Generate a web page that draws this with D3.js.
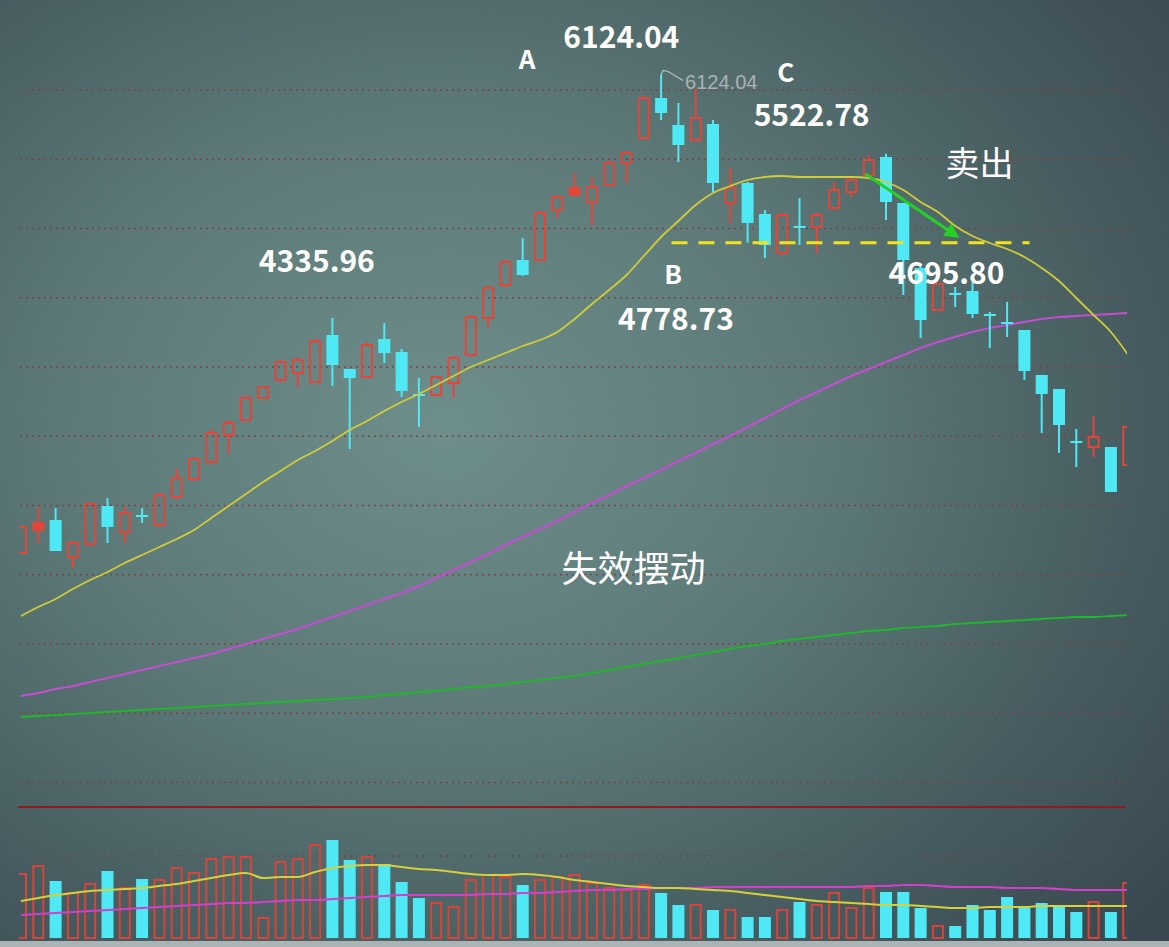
<!DOCTYPE html>
<html><head><meta charset="utf-8">
<script src="https://cdn.jsdelivr.net/npm/d3@7"></script>
<style>html,body{margin:0;padding:0;background:#4a6464;overflow:hidden}</style>
</head><body><svg id="c" width="1169" height="947"></svg>
<script>
// ---- data (index points) ----
const opens=[2296,2480,2560,2264,2368,2672,2464,2600,2520,2744,
2888,3024,3240,3360,3536,3680,3736,3664,4040,3768,
3704,4008,3904,3568,3560,3656,3880,4176,4440,4640,
4640,5040,5160,5104,5240,5416,5616,5936,5720,5600,
5728,5096,5256,5008,4696,4912,4904,5056,5184,5320,
5464,5096,4576,4240,4376,4392,4208,4144,4080,3720,
3608,3192,3144,3144,3000];
const highs=[2504,2664,2656,2392,2704,2736,2664,2656,2776,2968,
3064,3288,3360,3560,3632,3840,3864,4008,4176,3768,
3984,4136,3928,3696,3712,3872,4200,4432,4640,4816,
5032,5160,5336,5304,5432,5512,5952,6124.04,5896,6008,
5760,5384,5264,5040,5016,5136,5016,5264,5296,5480,
5490,5096,4600,4456,4424,4464,4224,4304,4080,3720,
3608,3288,3392,3144,3304];
const lows=[2296,2376,2312,2176,2352,2376,2376,2536,2504,2728,
2872,3008,3088,3352,3528,3664,3624,3656,3632,3128,
3696,3816,3544,3304,3552,3536,3872,4104,4424,4512,
4632,4976,5152,4920,5232,5256,5600,5760,5424,5584,
5184,4936,4778.73,4656,4680,4760,4696,5040,5144,5296,
4960,4360,4016,4232,4264,4176,3936,4024,3680,3256,
3096,2984,3064,2784,3000];
const closes=[2504,2536,2312,2376,2688,2504,2616,2592,2760,2896,
3048,3256,3336,3536,3624,3824,3840,3992,3800,3696,
3960,3896,3592,3552,3704,3856,4184,4416,4624,4520,
5016,5144,5216,5224,5416,5496,5936,5816,5560,5776,
5256,5216,4936,4760,5000,4896,5000,5200,5280,5440,
5104,4640,4160,4448,4360,4208,4192,4128,3752,3568,
3320,3176,3224,2784,3304];
const maShort=[1792,1864,1928,2008,2080,2144,2216,2280,2344,2408,
2480,2576,2672,2768,2864,2952,3040,3112,3192,3280,
3352,3432,3504,3568,3640,3712,3784,3840,3896,3952,
4000,4064,4168,4288,4400,4520,4672,4824,4952,5080,
5176,5232,5280,5304,5312,5304,5304,5304,5304,5296,
5264,5200,5104,5024,4912,4832,4776,4728,4664,4576,
4472,4336,4200,4064,3880];
const maMid=[1152,1176,1208,1232,1264,1296,1328,1360,1392,1424,
1456,1488,1528,1568,1608,1648,1688,1736,1784,1832,
1880,1928,1976,2032,2096,2160,2224,2288,2360,2424,
2488,2552,2624,2696,2760,2832,2896,2960,3032,3096,
3168,3232,3304,3376,3448,3520,3584,3648,3712,3768,
3824,3880,3936,3984,4024,4064,4096,4120,4144,4168,
4184,4192,4200,4208,4216];
const maLong=[984,992,1000,1008,1016,1024,1032,1040,1048,1056,
1064,1072,1080,1088,1096,1104,1112,1120,1128,1136,
1144,1160,1168,1184,1192,1208,1224,1232,1248,1264,
1280,1296,1312,1336,1360,1384,1408,1432,1456,1480,
1504,1528,1552,1568,1592,1608,1624,1640,1656,1672,
1680,1696,1704,1712,1728,1736,1744,1752,1760,1768,
1776,1784,1784,1792,1800];
const volumes=[6400,7200,5700,4500,5400,6700,5000,5900,5800,7000,
6500,7900,8100,8100,2000,7600,7900,9300,9800,7800,
8100,7400,5600,4000,3500,3100,5800,6300,6100,5300,
5800,6100,6300,5500,5000,4800,5300,4500,3300,3300,
2800,2800,2100,2100,2800,3600,3300,4500,3000,5000,
4600,4600,3000,1200,1200,3300,2800,4100,3000,3500,
3200,2600,3600,2600,5500];
const volMa5=[3700,4000,4300,4500,4700,4800,4900,5000,5200,5400,
5700,6000,6300,6500,6000,6100,6100,6600,7000,7200,
7300,7300,7100,6900,6800,6600,6400,6300,6300,6400,
6300,6100,5800,5600,5400,5200,5100,5000,5000,4900,
4800,4700,4500,4300,4100,3900,3700,3600,3500,3400,
3300,3300,3200,3100,3000,3000,3100,3100,3100,3200,
3200,3200,3200,3200,3200];
const volMa10=[2300,2400,2500,2600,2700,2800,2900,3000,3100,3200,
3300,3400,3500,3500,3600,3700,3800,3800,3900,4000,
4100,4200,4300,4300,4300,4300,4300,4400,4400,4500,
4500,4600,4700,4800,4800,4900,4900,5000,5000,5000,
5100,5100,5100,5100,5100,5100,5100,5100,5100,5200,
5200,5300,5300,5200,5100,5100,5100,5000,5000,5000,
4900,4800,4800,4800,4800];
const gridLevels=[6000,5446,4892,4338,3784,3230,2676,2122,1568,1014,460];
const volGrid=[8200];
const annotations=[
  {t:"A",p:6165,i:29.25,size:26,bold:true},
  {t:"6124.04",p:6336,i:34.7,size:30,bold:true},
  {t:"C",p:6066,i:44.2,size:26,bold:true},
  {t:"5522.78",p:5714,i:45.7,size:30,bold:true},
  {t:"4335.96",p:4546,i:17.1,size:30,bold:true},
  {t:"B",p:4450,i:37.7,size:26,bold:true},
  {t:"4778.73",p:4082,i:37.86,size:30,bold:true},
  {t:"4695.80",p:4452,i:53.5,size:30,bold:true},
  {t:"卖出",p:5315,i:55.4,size:34,bold:false},
  {t:"失效摆动",p:2068,i:35.4,size:36,bold:false}
];
const supportLevel=4778.73;

// ---- drawing ----
const W=1169,H=947;
const svg=d3.select("#c");
const defs=svg.append("defs");
const rg=defs.append("radialGradient").attr("id","bg").attr("cx","0.38").attr("cy","0.45").attr("r","0.8");
[[0,"#6e8e8b"],[0.4,"#5d7a78"],[0.75,"#465b5f"],[1,"#394850"]].forEach(s=>rg.append("stop").attr("offset",s[0]).attr("stop-color",s[1]));
svg.append("rect").attr("width",W).attr("height",H).attr("fill","url(#bg)");
svg.append("rect").attr("x",0).attr("y",941).attr("width",W).attr("height",6).attr("fill","#aab4b4");

defs.append("clipPath").attr("id","clip").append("rect").attr("x",19).attr("y",0).attr("width",1108).attr("height",H);
defs.append("marker").attr("id","arr").attr("viewBox","0 0 10 10").attr("refX",8).attr("refY",5)
 .attr("markerWidth",5).attr("markerHeight",5).attr("orient","auto")
 .append("path").attr("d","M0,0L10,5L0,10z").attr("fill","#25d025");

const n=opens.length;
const x=d3.scaleLinear().domain([0,n-1]).range([21,1128.2]);
const y=d3.scaleLinear().domain([264,6720]).range([807,0]);
const yv=d3.scaleLinear().domain([0,10000]).range([938,838]);

const RED="#e2463a",CYAN="#4fe9f6";

// grid
svg.append("g").selectAll("line").data(gridLevels).join("line")
 .attr("x1",20).attr("x2",1126).attr("y1",d=>y(d)).attr("y2",d=>y(d))
 .attr("stroke","#7a4545").attr("stroke-width",1.6).attr("stroke-dasharray","2,4");
svg.append("line").attr("x1",18).attr("x2",1126).attr("y1",y(264)).attr("y2",y(264))
 .attr("stroke","#8e1c1c").attr("stroke-width",2);
svg.append("g").selectAll("line").data(volGrid).join("line")
 .attr("x1",20).attr("x2",1126).attr("y1",d=>yv(d)).attr("y2",d=>yv(d))
 .attr("stroke","#6e4a4a").attr("stroke-width",1.4).attr("stroke-dasharray","2,4");

const plot=svg.append("g").attr("clip-path","url(#clip)");
const idx=d3.range(n);

// moving averages
const line=arr=>d3.line().x((d,i)=>x(i)).y(d=>y(d)).curve(d3.curveMonotoneX)(arr);
plot.append("path").attr("d",line(maLong)).attr("fill","none").attr("stroke","#1fb82a").attr("stroke-width",1.8);
plot.append("path").attr("d",line(maMid)).attr("fill","none").attr("stroke","#c24fd0").attr("stroke-width",2.2);

// candles
const up=i=>closes[i]>=opens[i];
const cg=plot.append("g");
idx.forEach(i=>{
  const cx=x(i), g=cg.append("g");
  const top=y(Math.max(opens[i],closes[i])), bot=y(Math.min(opens[i],closes[i]));
  if(up(i)){
    g.append("line").attr("x1",cx).attr("x2",cx).attr("y1",y(highs[i])).attr("y2",top).attr("stroke",RED).attr("stroke-width",2);
    g.append("line").attr("x1",cx).attr("x2",cx).attr("y1",bot).attr("y2",y(lows[i])).attr("stroke",RED).attr("stroke-width",2);
    const h=Math.max(bot-top,1);
    g.append("rect").attr("x",cx-5).attr("y",top).attr("width",10).attr("height",h)
     .attr("fill",h<9?RED:"none").attr("stroke",RED).attr("stroke-width",2);
  } else {
    g.append("line").attr("x1",cx).attr("x2",cx).attr("y1",y(highs[i])).attr("y2",y(lows[i])).attr("stroke",CYAN).attr("stroke-width",2);
    g.append("rect").attr("x",cx-6).attr("y",top).attr("width",12).attr("height",Math.max(bot-top,2)).attr("fill",CYAN);
  }
});
plot.append("path").attr("d",line(maShort)).attr("fill","none").attr("stroke","#cfcc3a").attr("stroke-width",1.8);

// volume
const vg=plot.append("g");
idx.forEach(i=>{
  const cx=x(i);
  if(up(i)) vg.append("rect").attr("x",cx-5).attr("y",yv(volumes[i])).attr("width",10).attr("height",yv(0)-yv(volumes[i]))
     .attr("fill","none").attr("stroke","#d8443a").attr("stroke-width",2);
  else vg.append("rect").attr("x",cx-6).attr("y",yv(volumes[i])).attr("width",12).attr("height",yv(0)-yv(volumes[i])).attr("fill",CYAN);
});
const vline=arr=>d3.line().x((d,i)=>x(i)).y(d=>yv(d)).curve(d3.curveMonotoneX)(arr);
plot.append("path").attr("d",vline(volMa10)).attr("fill","none").attr("stroke","#d040c8").attr("stroke-width",2.2);
plot.append("path").attr("d",vline(volMa5)).attr("fill","none").attr("stroke","#d6d03a").attr("stroke-width",2);

// support dashed line
svg.append("line").attr("x1",x(37.6)).attr("x2",x(58.3)).attr("y1",y(supportLevel)).attr("y2",y(supportLevel))
 .attr("stroke","#f2e21e").attr("stroke-width",3).attr("stroke-dasharray","16,11");

// sell arrow
svg.append("line").attr("x1",x(48.8)).attr("y1",y(5330)).attr("x2",x(54.1)).attr("y2",y(4830))
 .attr("stroke","#25d025").attr("stroke-width",3).attr("marker-end","url(#arr)");

// high marker
const hx=x(37), hy=y(6124.04);
svg.append("path").attr("d",`M${hx},${hy}L${hx+2},${hy-4}L${hx+7},${hy-3}L${hx+22},${hy+6}`)
 .attr("fill","none").attr("stroke","#b8c0c0").attr("stroke-width",1.2);
svg.append("text").attr("x",hx+24).attr("y",hy+15).text("6124.04")
 .attr("font-family","Liberation Sans, Arial, sans-serif").attr("font-size",20).attr("fill","#aab3b3");

// annotations
svg.append("g").selectAll("text").data(annotations).join("text")
 .attr("x",d=>x(d.i)).attr("y",d=>y(d.p)).attr("text-anchor","middle")
 .attr("font-family","'Noto Sans CJK SC','Noto Sans',sans-serif")
 .attr("font-weight",d=>d.bold?"700":"400").attr("font-size",d=>d.size)
 .attr("fill","#ffffff").text(d=>d.t);
</script></body></html>
